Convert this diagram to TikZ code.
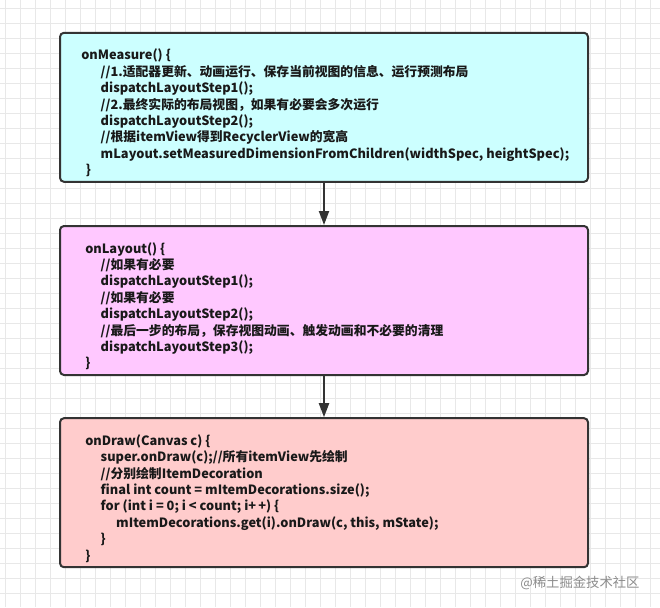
\documentclass[tikz,border=0pt]{standalone}
\usepackage{fontspec}
\setmainfont{Noto Sans CJK SC}
\usetikzlibrary{arrows.meta,calc}

\definecolor{measurecol}{HTML}{CCFFFF}
\definecolor{layoutcol}{HTML}{FFC8FF}
\definecolor{drawcol}{HTML}{FFCCCC}
\definecolor{edgecol}{HTML}{333333}
\definecolor{gridcol}{HTML}{E8E8E8}

\newcommand{\indA}{\hspace*{14.6pt}}
\newcommand{\indB}{\hspace*{11.6pt}}

\tikzset{
    box/.style={draw=edgecol, line width=1.5pt, rounded corners=3pt,
        minimum width=396pt, minimum height=111.75pt, inner sep=0pt},
    code/.style={anchor=north west, inner sep=0pt, align=left,
        font=\bfseries\fontsize{9.6pt}{12.3pt}\selectfont, text=black!90},
    flow/.style={-{Triangle[length=10.5pt,width=7.5pt]}, line width=1.5pt, draw=edgecol},
    gridline/.style={gridcol, line width=0.6pt}
}

\begin{document}
\begin{tikzpicture}[x=0.75pt,y=-0.75pt]
    \useasboundingbox (0,0) rectangle (660,607);
    \fill[white] (0,0) rectangle (660,607);
    % background grid
    \foreach \gx in {5,20,...,655}
        \draw[gridline] (\gx,0) -- (\gx,607);
    \foreach \gy in {8,23,...,605}
        \draw[gridline] (0,\gy) -- (660,\gy);

    \node[box, fill=measurecol] (measure) at (324,107.3) {};
    \node[box, fill=layoutcol] (layout) at (324,300.5) {};
    \node[box, fill=drawcol] (draw) at (324,492.7) {};

    \node[code] (measuretxt) at ($(measure.north west)+(22,17)$) {%
        onMeasure() \{\\
        \indA//1.适配器更新、动画运行、保存当前视图的信息、运行预测布局\\
        \indA dispatchLayoutStep1();\\
        \indA//2.最终实际的布局视图，如果有必要会多次运行\\
        \indA dispatchLayoutStep2();\\
        \indA//根据itemView得到RecyclerView的宽高\\
        \indA mLayout.setMeasuredDimensionFromChildren(widthSpec, heightSpec);\\
        \hspace*{3.5pt}\}};

    \node[code] (layouttxt) at ($(layout.north west)+(26,17)$) {%
        onLayout() \{\\
        \indB//如果有必要\\
        \indB dispatchLayoutStep1();\\
        \indB//如果有必要\\
        \indB dispatchLayoutStep2();\\
        \indB//最后一步的布局，保存视图动画、触发动画和不必要的清理\\
        \indB dispatchLayoutStep3();\\
        \}};

    \node[code] (drawtxt) at ($(draw.north west)+(26,17)$) {%
        onDraw(Canvas c) \{\\
        \indB super.onDraw(c);//所有itemView先绘制\\
        \indB//分别绘制ItemDecoration\\
        \indB final int count = mItemDecorations.size();\\
        \indB for (int i = 0; i < count; i+\,+) \{\\
        \indB\indB mItemDecorations.get(i).onDraw(c, this, mState);\\
        \indB\}\\
        \}};

    \draw[flow] (measure.south) -- (layout.north);
    \draw[flow] (layout.south) -- (draw.north);

    \node[anchor=west, inner sep=0pt, text=black!45, font=\fontsize{10pt}{12pt}\selectfont]
        (mark) at (520,582.7) {@稀土掘金技术社区};
\end{tikzpicture}
\end{document}
